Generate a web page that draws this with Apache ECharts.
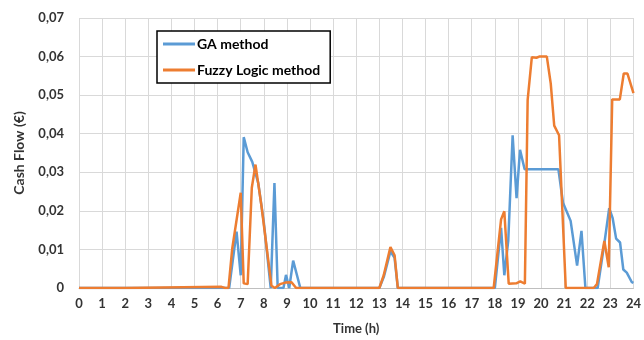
<!DOCTYPE html>
<html>
<head>
<meta charset="utf-8">
<script src="https://cdn.jsdelivr.net/npm/echarts@6/dist/echarts.min.js"></script>
<style>
  html, body { margin: 0; padding: 0; background: #fff; }
  #chart { width: 644px; height: 340px; }
</style>
</head>
<body>
<div id="chart"></div>
<script>
// breakpoints: time in hours, cash flow in euro
var gaTime  = [0, 6.5, 6.82, 7.0, 7.13, 7.3, 7.5, 7.76, 8.0, 8.3, 8.46, 8.6, 8.85, 8.96, 9.1, 9.27, 9.58,
               13.0, 13.2, 13.48, 13.66, 13.8,
               18.0, 18.27, 18.41, 18.58, 18.77, 18.94, 19.09, 19.29, 20.75, 20.95, 21.28, 21.56, 21.75, 21.92,
               22.45, 22.75, 22.95, 23.1, 23.25, 23.42, 23.56, 23.71, 23.93, 24];
var gaValue = [0, 0, 0.0146, 0.0033, 0.0391, 0.0352, 0.0327, 0.0272, 0.017, 0, 0.0272, 0, 0, 0.0034, 0, 0.0071, 0,
               0, 0.003, 0.0095, 0.0078, 0,
               0, 0.0156, 0.0033, 0.0122, 0.0396, 0.0233, 0.0358, 0.0308, 0.0308, 0.0221, 0.0174, 0.0058, 0.0148, 0,
               0, 0.012, 0.0207, 0.0181, 0.0128, 0.0118, 0.0048, 0.004, 0.0015, 0.0013];

var fuzzyTime  = [0, 2, 2.05, 6.17, 6.33, 6.47, 6.63, 7.0, 7.13, 7.3, 7.48, 7.64, 7.9, 8.33, 8.48, 8.7, 8.93, 9.2, 9.4,
                  13.0, 13.19, 13.48, 13.66, 13.8,
                  17.95, 18.27, 18.41, 18.6, 18.93, 19.1, 19.3, 19.42, 19.6, 19.8, 19.92, 20.25, 20.42, 20.57, 20.78, 21.07,
                  22.28, 22.42, 22.74, 22.93, 23.08, 23.41, 23.58, 23.74, 24];
var fuzzyValue = [0, 0, 0.0003, 0.0003, 0, 0, 0.0101, 0.0247, 0.0012, 0.001, 0.026, 0.032, 0.0212, 0.0006, 0, 0.001, 0.0014, 0.0015, 0,
                  0, 0.0033, 0.0106, 0.0085, 0,
                  0, 0.0178, 0.0199, 0.0011, 0.0012, 0.0017, 0.0011, 0.0488, 0.0598, 0.0597, 0.06, 0.06, 0.053, 0.0421, 0.0396, 0,
                  0, 0.001, 0.0122, 0.0054, 0.0489, 0.0489, 0.0556, 0.0556, 0.0505];

var seriesNames = ['GA method', 'Fuzzy Logic method'];

function pairs(t, v){
	var out = [];
	for(var i=0;i<t.length;i++){
		out.push([t[i], v[i]]);
	}
	return out;
}

var myChart = echarts.init(document.getElementById('chart'), null, {renderer: 'canvas'});
var fontFam = 'Lato, "Open Sans", sans-serif';
var option = {
	animation: false,
	color: ['#5B9BD5', '#ED7D31'],
	grid: { left: 79, right: 7, top: 18, bottom: 49 },
	legend: {
		orient: 'vertical',
		left: 157,
		top: 31,
		data: seriesNames,
		icon: 'rect',
		itemWidth: 32,
		itemHeight: 3,
		itemGap: 12,
		padding: [6, 10, 6, 6],
		borderColor: '#000',
		borderWidth: 1.5,
		backgroundColor: '#fff',
		textStyle: { fontFamily: fontFam, fontWeight: 'bold', fontSize: 14, color: '#000', padding: [0, 0, 0, -3] }
	},
	xAxis: {
		type: 'value',
		min: 0,
		max: 24,
		interval: 1,
		name: 'Time (h)',
		nameLocation: 'middle',
		nameGap: 34,
		nameTextStyle: { fontFamily: fontFam, fontWeight: 'bold', fontSize: 13, color: '#333' },
		axisLine: { lineStyle: { color: '#bfbfbf' } },
		axisTick: { show: false },
		axisLabel: { fontFamily: fontFam, fontWeight: 'bold', fontSize: 13, color: '#333', margin: 9 },
		splitLine: { show: true, lineStyle: { color: '#d9d9d9' } }
	},
	yAxis: {
		type: 'value',
		min: 0,
		max: 0.07,
		interval: 0.01,
		name: 'Cash Flow (€)',
		nameLocation: 'middle',
		nameGap: 53,
		nameTextStyle: { fontFamily: fontFam, fontWeight: 'bold', fontSize: 14, color: '#333' },
		axisLine: { show: false },
		axisTick: { show: false },
		axisLabel: {
			fontFamily: fontFam, fontWeight: 'bold', fontSize: 13, color: '#333', margin: 15,
			formatter: function(v){ return v === 0 ? '0' : v.toFixed(2).replace('.', ','); }
		},
		splitLine: { show: true, lineStyle: { color: '#d9d9d9' } }
	},
	series: [
		{
			name: seriesNames[0],
			type: 'line',
			showSymbol: false,
			lineStyle: { width: 2.5 },
			data: pairs(gaTime, gaValue)
		},
		{
			name: seriesNames[1],
			type: 'line',
			showSymbol: false,
			lineStyle: { width: 2.5 },
			data: pairs(fuzzyTime, fuzzyValue)
		}
	]
};
myChart.setOption(option);
</script>
</body>
</html>
